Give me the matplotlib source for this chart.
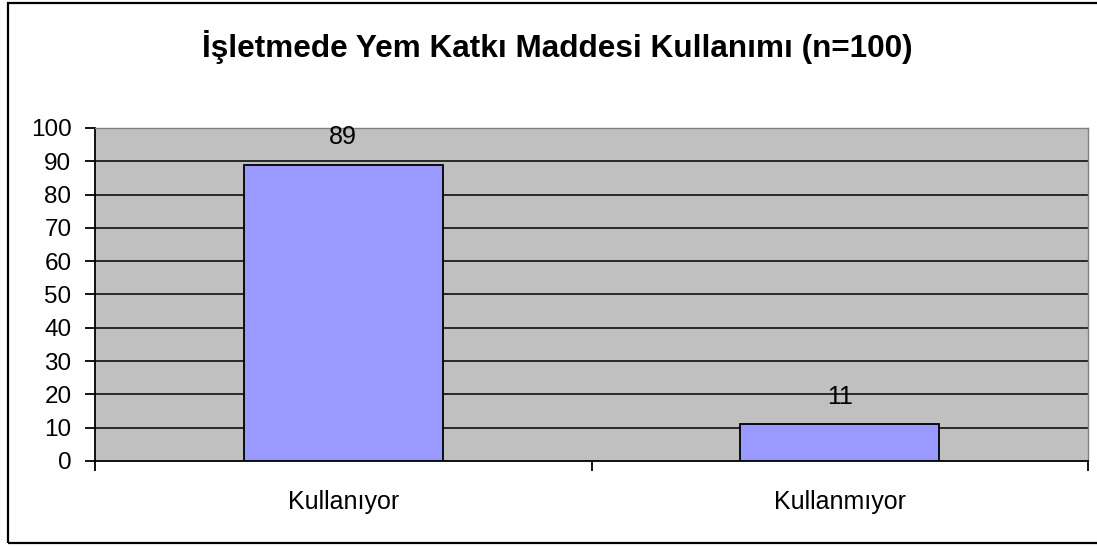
import numpy as np
import matplotlib.pyplot as plt
from matplotlib.patches import Rectangle

plt.rcParams['font.family'] = ['Liberation Sans', 'DejaVu Sans']

title = 'İşletmede Yem Katkı Maddesi Kullanımı (n=100)'
categories = ['Kullanıyor', 'Kullanmıyor']
values = [89, 11]
y_ticks = list(range(0, 101, 10))

fig = plt.figure(figsize=(10.97, 5.46), dpi=100)
ax = fig.add_axes([0.0866, 0.1557, 0.9052, 0.6099])
ax.set_facecolor('#C0C0C0')

x = np.arange(len(categories))
bars = ax.bar(x, values, width=0.4, color='#9999FF', edgecolor='black',
              linewidth=1.3, zorder=3)

# value labels above the bars
for b, v in zip(bars, values):
    ax.annotate(str(v), (b.get_x() + b.get_width() / 2, v),
                xytext=(0, 20), textcoords='offset points',
                ha='center', va='center', fontsize=18, zorder=4)

ax.set_xlim(-0.5, len(categories) - 0.5)
ax.set_ylim(0, 100)
ax.set_yticks(y_ticks)
for t in y_ticks[1:-1]:
    ax.axhline(t, color='black', linewidth=1.1, zorder=1)

ax.set_xticks(x)
ax.set_xticklabels(categories, fontsize=18)
ax.set_xticks(np.arange(-0.5, len(categories)), minor=True)
ax.tick_params(axis='x', which='major', length=0, pad=21)
ax.tick_params(axis='x', which='minor', length=7, width=1.3, direction='out')
ax.tick_params(axis='y', length=7, width=1.3, labelsize=17.5, pad=10)

for side in ['left', 'bottom']:
    ax.spines[side].set_color('black')
    ax.spines[side].set_linewidth(1.3)
for side in ['top', 'right']:
    ax.spines[side].set_color('#808080')
    ax.spines[side].set_linewidth(1.0)

fig.text(0.508, 0.914, title, ha='center', va='center',
         fontsize=22.7, fontweight='bold')

# chart frame
fig.patches.append(Rectangle((0.0073, 0.0055), 1.05, 0.989,
                             transform=fig.transFigure, fill=False,
                             edgecolor='black', linewidth=1.6))

fig.savefig('out.png', dpi=100)
